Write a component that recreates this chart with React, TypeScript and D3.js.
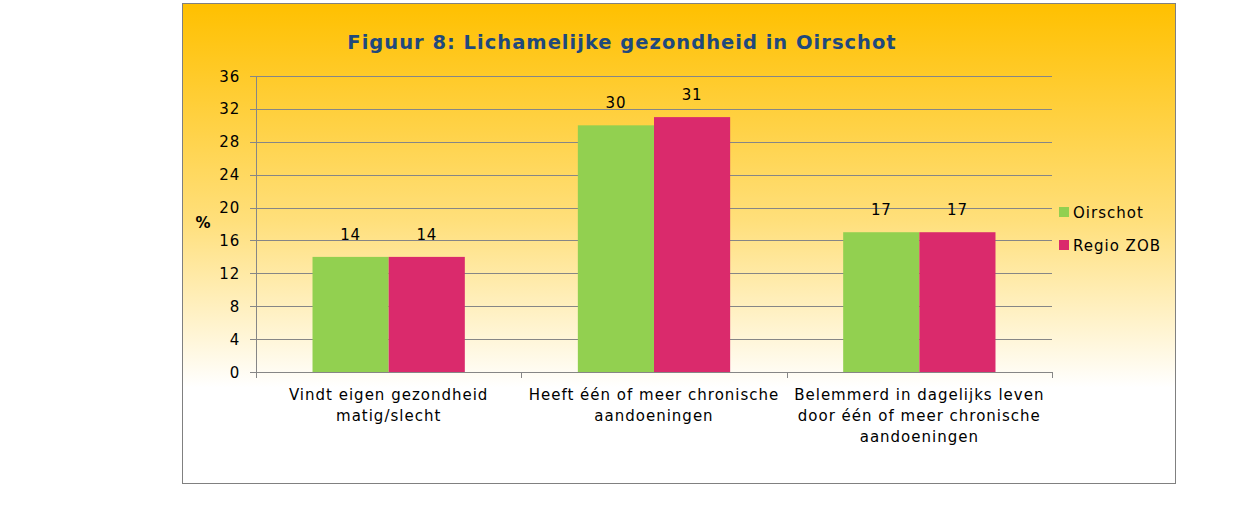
import React from "react";
import * as d3 from "d3";

const categories = [
  ["Vindt eigen gezondheid", "matig/slecht"],
  ["Heeft één of meer chronische", "aandoeningen"],
  ["Belemmerd in dagelijks leven", "door één of meer chronische", "aandoeningen"],
];
const seriesNames = ["Oirschot", "Regio ZOB"];
const oirschot = [14, 30, 17];
const regio = [14, 31, 17];
const yTicks = [0, 4, 8, 12, 16, 20, 24, 28, 32, 36];
const colors = ["#92D050", "#DA2A6C"];

export default function App() {
  const W = 1243, H = 529;
  const left = 256, right = 1052, top = 76, bottom = 372;
  const x0 = d3.scaleBand<number>().domain([0, 1, 2]).range([left, right]).paddingInner(0).paddingOuter(0);
  const x1 = d3.scaleBand<number>().domain([0, 1]).range([0, x0.bandwidth() * 0.574]);
  const groupOffset = (x0.bandwidth() - x0.bandwidth() * 0.574) / 2;
  const y = d3.scaleLinear().domain([0, 36]).range([bottom, top]);
  const series = [oirschot, regio];
  const font = "'DejaVu Sans', Verdana, sans-serif";

  return (
    <svg width={W} height={H} style={{ position: "absolute", left: 0, top: 0 }} fontFamily={font}>
      <defs>
        <linearGradient id="bg" x1="0" y1="0" x2="0" y2="1">
          <stop offset="0" stopColor="#FFC000" />
          <stop offset="0.45" stopColor="#FFDF7A" />
          <stop offset="0.8" stopColor="#FFFFFF" />
          <stop offset="1" stopColor="#FFFFFF" />
        </linearGradient>
      </defs>
      <rect x={0} y={0} width={W} height={H} fill="#FFFFFF" />
      <rect x={182.5} y={3.5} width={993} height={480} fill="url(#bg)" stroke="#808080" strokeWidth={1} />
      <text x={622} y={49} textAnchor="middle" fontSize={19.5} fontWeight="bold" fill="#1F497D" letterSpacing={1}>
        Figuur 8: Lichamelijke  gezondheid  in  Oirschot
      </text>
      {yTicks.map((t) => (
        <g key={t}>
          <line x1={250} x2={right} y1={Math.round(y(t)) + 0.5} y2={Math.round(y(t)) + 0.5} stroke="#868686" strokeWidth={1} />
          <text x={240} y={y(t) + 5.5} textAnchor="end" fontSize={15} fill="#000" letterSpacing={0.8}>{t}</text>
        </g>
      ))}
      <line x1={left + 0.5} x2={left + 0.5} y1={top} y2={bottom + 6} stroke="#868686" />
      {[0, 1, 2, 3].map((i) => {
        const xx = i < 3 ? x0(i)! : right;
        return <line key={i} x1={Math.round(xx) + 0.5} x2={Math.round(xx) + 0.5} y1={bottom} y2={bottom + 6} stroke="#868686" />;
      })}
      <text x={203} y={228} textAnchor="middle" fontSize={15} fontWeight="bold" fill="#000">%</text>
      {categories.map((_, ci) =>
        series.map((s, si) => {
          const bx = x0(ci)! + groupOffset + x1(si)!;
          return (
            <g key={ci + "-" + si}>
              <rect x={bx} y={y(s[ci])} width={x1.bandwidth()} height={bottom - y(s[ci])} fill={colors[si]} />
              <text x={bx + x1.bandwidth() / 2} y={y(s[ci]) - 17} textAnchor="middle" fontSize={15} fill="#000" letterSpacing={0.8}>
                {s[ci]}
              </text>
            </g>
          );
        })
      )}
      {categories.map((lines, ci) => (
        <text key={ci} x={x0(ci)! + x0.bandwidth() / 2} textAnchor="middle" fontSize={15} fill="#000" letterSpacing={1}>
          {lines.map((l, li) => (
            <tspan key={li} x={x0(ci)! + x0.bandwidth() / 2} y={400 + li * 21}>{l}</tspan>
          ))}
        </text>
      ))}
      {seriesNames.map((n, i) => (
        <g key={n}>
          <rect x={1059} y={207 + i * 33} width={10} height={10} fill={colors[i]} />
          <text x={1073} y={218 + i * 33} fontSize={15} fill="#000" letterSpacing={1}>{n}</text>
        </g>
      ))}
    </svg>
  );
}
